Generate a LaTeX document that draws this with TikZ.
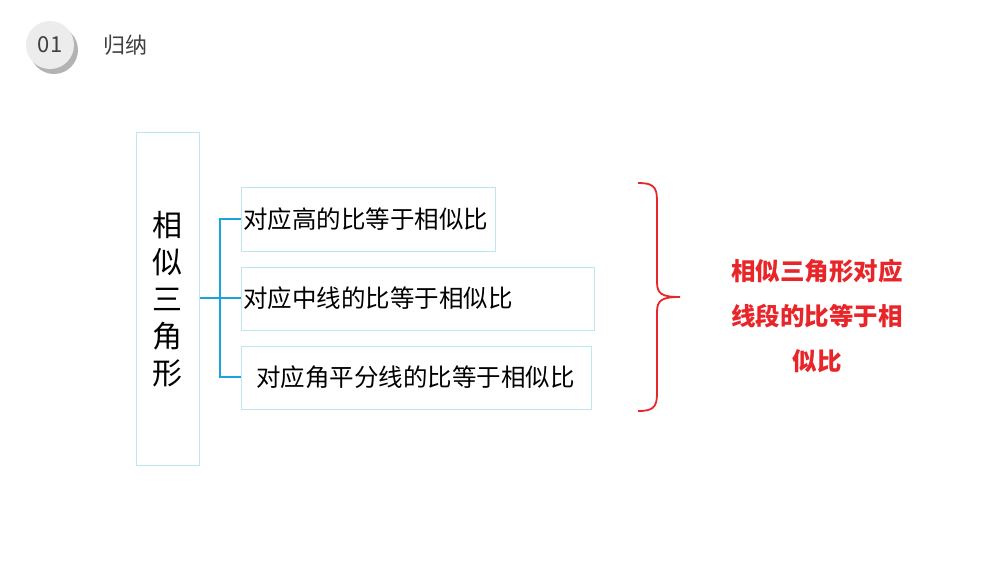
\documentclass[tikz,border=0pt]{standalone}
\usepackage{fontspec}
\setmainfont{Noto Sans CJK SC}
\usepackage{xcolor}
\usetikzlibrary{shadows}
\definecolor{boxline}{HTML}{BDE6F2}
\definecolor{linkblue}{HTML}{1AA3DC}
\definecolor{bracered}{HTML}{E8262A}
\begin{document}
\begin{tikzpicture}[x=1pt,y=-1pt,
    item/.style = {draw=boxline, line width=0.8pt, anchor=north west,
                   inner sep=0pt},
    itemtext/.style = {anchor=west, inner sep=0pt, font=\fontsize{24.5}{28}\selectfont},
    link/.style = {draw=linkblue, line width=1.6pt}]
    \useasboundingbox (0,0) rectangle (1000,563);
    % badge
    \node[circle, fill=gray!15, minimum size=48pt, drop shadow={shadow xshift=4pt,shadow yshift=-5pt,opacity=0.6},
          font=\fontsize{22}{26}\selectfont, text=black!75] (badge) at (50,45) {01};
    \node[anchor=west, font=\fontsize{22}{26}\selectfont, text=black!75] (title) at (100,45) {归纳};
    % main box
    \node[item, minimum width=63pt, minimum height=333pt] (main) at (136,132) {};
    \node[font=\fontsize{30}{37}\selectfont, align=center] (mainlbl) at (main.center) {相\\似\\三\\角\\形};
    % items
    \node[item, minimum width=254pt, minimum height=64pt] (h) at (241,187) {};
    \node[itemtext] at (243,219) {对应高的比等于相似比};
    \node[item, minimum width=353pt, minimum height=63pt] (m) at (241,267) {};
    \node[itemtext] at (243,298) {对应中线的比等于相似比};
    \node[item, minimum width=350pt, minimum height=63pt] (a) at (241,346) {};
    \node[itemtext] at (256,377) {对应角平分线的比等于相似比};
    % connectors
    \coordinate (fork) at (220,298);
    \draw[link] (main.east |- fork) -- (fork);
    \draw[link] (h.west |- 0,219) -| (fork) |- (a.west |- 0,377);
    \draw[link] (fork) -- (m.west |- fork);
    % brace
    \draw[bracered, line width=1.8pt] (638,183) .. controls (652,183) and (657,186) .. (657,200)
        -- (657,282) .. controls (657,294) and (662,297) .. (680,297)
        .. controls (662,297) and (657,300) .. (657,312)
        -- (657,394) .. controls (657,408) and (652,411) .. (638,411);
    \node[text=bracered, font=\bfseries\fontsize{24.5}{45}\selectfont, align=center] (res) at (817,316)
        {相似三角形对应\\线段的比等于相\\似比};
\end{tikzpicture}
\end{document}
